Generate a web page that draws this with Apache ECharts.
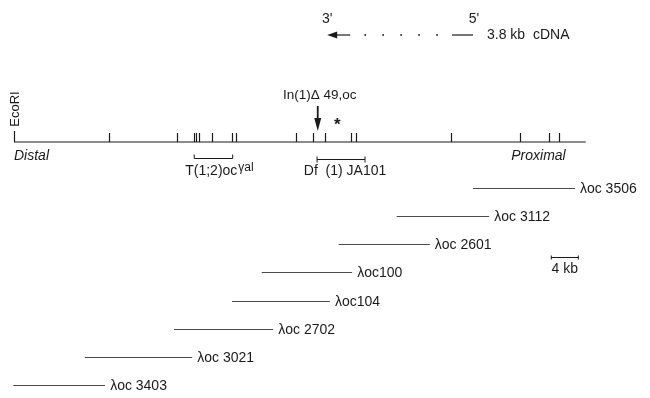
<!DOCTYPE html>
<html><head><meta charset="utf-8">
<script src="https://cdn.jsdelivr.net/npm/echarts@6/dist/echarts.min.js"></script>
<style>html,body{margin:0;padding:0;background:#fff}#c{width:650px;height:398px}</style>
</head><body><div id="c"></div>
<script>
// ---- data (positions in kb from the distal EcoRI site) ----
const mapEndKb = 84.7;
const siteKb = [0, 14.1, 24.1, 26.7, 27.0, 27.4, 29.3, 32.3, 32.9, 41.8, 44.3, 46.1, 49.9, 50.7, 64.7, 75.0, 79.3, 80.7];
const cloneNames = ['λoc 3506', 'λoc 3112', 'λoc 2601', 'λoc100', 'λoc104', 'λoc 2702', 'λoc 3021', 'λoc 3403'];
const cloneStartKb = [68.0, 56.7, 48.1, 36.7, 32.3, 23.7, 10.5, -0.1];
const cloneEndKb = [83.1, 70.4, 61.6, 50.1, 46.8, 38.4, 26.4, 13.5];
const lesionNames = ['T(1;2)oc', 'Df  (1) JA101'];
const lesionStartKb = [26.7, 44.9];
const lesionEndKb = [32.4, 52.0];
const inversionName = 'In(1)\u0394 49,oc';
const inversionKb = 45.0;
const starKb = 47.9;
const cdnaLabel = '3.8 kb  cDNA';
const cdnaThreePrimeKb = 46.4;
const cdnaFivePrimeKb = 68.0;
const scaleBarKb = 4;
const scaleBarStartKb = 79.6;

// ---- layout ----
const W = 650, H = 398, X0 = 14, PXKB = 6.75;
const yMain = 142, yClone0 = 188, cloneGap = 28.15;
const FONT = '"Liberation Sans", Arial, sans-serif';
const INK = '#1a1a1a', LINE = '#4a4a4a';

const chart = echarts.init(document.getElementById('c'), null, {renderer: 'canvas'});

function txt(x, y, s, o) {
  return {type: 'text', x: x, y: y, rotation: (o && o.rot) || 0,
    style: Object.assign({text: s, fill: INK, font: '14px ' + FONT, textAlign: 'left', textVerticalAlign: 'middle'}, o && o.style)};
}
function ln(x1, y1, x2, y2, w, c) {
  return {type: 'line', shape: {x1: x1, y1: y1, x2: x2, y2: y2}, style: {stroke: c || INK, lineWidth: w || 1}};
}

const cloneData = cloneNames.map((n, i) => [cloneStartKb[i], cloneEndKb[i], i]);
const lesionData = lesionNames.map((n, i) => [lesionStartKb[i], lesionEndKb[i], i]);

chart.setOption({
  animation: false,
  grid: {left: 0, right: 0, top: 0, bottom: 0},
  xAxis: {type: 'value', min: -X0 / PXKB, max: (W - X0) / PXKB, show: false},
  yAxis: {type: 'value', min: 0, max: H, inverse: true, show: false},
  series: [
    { // main restriction map
      type: 'custom', data: [[0, mapEndKb]], encode: {x: [0, 1]},
      renderItem: function (p, api) {
        const a = api.coord([api.value(0), yMain]);
        const b = api.coord([api.value(1), yMain]);
        const ch = [ln(a[0], yMain, b[0], yMain, 1.2)];
        siteKb.forEach(function (k, i) {
          const x = Math.round(api.coord([k, 0])[0]) + 0.5;
          ch.push(ln(x, i === 0 ? 131 : 133, x, yMain, 1.2));
        });
        ch.push(txt(a[0] + 1, 109, 'EcoRI', {rot: Math.PI / 2, style: {textAlign: 'center', font: '13px ' + FONT}}));
        ch.push(txt(a[0], 156, 'Distal', {style: {font: 'italic 14px ' + FONT}}));
        ch.push(txt(b[0] - 20, 156, 'Proximal', {style: {textAlign: 'right', font: 'italic 14px ' + FONT}}));
        // inversion breakpoint arrow
        const xi = api.coord([inversionKb, 0])[0];
        ch.push(ln(xi, 106, xi, 124, 1.8));
        ch.push({type: 'polygon', shape: {points: [[xi - 3.5, 118], [xi + 3.5, 118], [xi, 131]]}, style: {fill: INK}});
        ch.push(txt(xi + 2, 95, inversionName, {style: {textAlign: 'center', font: '13.5px ' + FONT}}));
        const xs = api.coord([starKb, 0])[0];
        ch.push(txt(xs, 125, '*', {style: {textAlign: 'center', font: 'bold 17px ' + FONT}}));
        return {type: 'group', children: ch};
      }
    },
    { // lesion brackets
      type: 'custom', data: lesionData, encode: {x: [0, 1]},
      renderItem: function (p, api) {
        const i = api.value(2);
        const x1 = api.coord([api.value(0), 0])[0], x2 = api.coord([api.value(1), 0])[0];
        const ch = [];
        if (i === 0) {
          const y = 158.5;
          ch.push(ln(x1, y, x2, y, 1));
          ch.push(ln(x1, y - 4, x1, y, 1));
          ch.push(ln(x2, y - 4, x2, y, 1));
          ch.push({type: 'text', x: x1 - 9, y: 171, style: {
            text: '{m|' + lesionNames[i] + '}{s|\u03b3al}', textVerticalAlign: 'middle',
            rich: {m: {font: '14px ' + FONT, fill: INK, padding: [0, 1, 0, 0]}, s: {font: '12px ' + FONT, fill: INK, padding: [0, 0, 7, 0]}}
          }});
        } else {
          const y = 159.5;
          ch.push(ln(x1, y, x2, y, 1));
          ch.push(ln(x1, y - 3, x1, y + 3, 1));
          ch.push(ln(x2, y - 3, x2, y + 3, 1));
          ch.push(txt((x1 + x2) / 2 + 4, 171, lesionNames[i], {style: {textAlign: 'center'}}));
        }
        return {type: 'group', children: ch};
      }
    },
    { // clones
      type: 'custom', data: cloneData, encode: {x: [0, 1]},
      renderItem: function (p, api) {
        const i = api.value(2);
        const y = Math.round(yClone0 + i * cloneGap) + 0.5;
        const x1 = api.coord([api.value(0), y])[0], x2 = api.coord([api.value(1), y])[0];
        return {type: 'group', children: [
          ln(x1, y, x2, y, 1, LINE),
          txt(x2 + 5, y + 1, cloneNames[i])
        ]};
      }
    },
    { // cDNA and scale bar
      type: 'custom', data: [[cdnaThreePrimeKb, cdnaFivePrimeKb, scaleBarStartKb, scaleBarStartKb + scaleBarKb]], encode: {x: [0, 1]},
      renderItem: function (p, api) {
        const t = api.coord([api.value(0), 0])[0], f = api.coord([api.value(1), 0])[0];
        const y = 35;
        const ch = [];
        ch.push({type: 'polygon', shape: {points: [[t, y], [t + 10, y - 3.5], [t + 10, y + 3.5]]}, style: {fill: INK}});
        ch.push(ln(t + 9, y, t + 23, y, 1.2));
        const segStart = f - 21;
        const d0 = t + 38, d1 = segStart - 15;
        for (let k = 0; k < 5; k++) {
          const x = d0 + (d1 - d0) * k / 4;
          ch.push({type: 'circle', shape: {cx: x, cy: y, r: 0.9}, style: {fill: INK}});
        }
        ch.push(ln(segStart, y, f, y, 1.2));
        ch.push(txt(t, 19, "3'", {style: {textAlign: 'center'}}));
        ch.push(txt(f + 1, 19, "5'", {style: {textAlign: 'center'}}));
        ch.push(txt(f + 14, y, cdnaLabel));
        const s1 = api.coord([api.value(2), 0])[0], s2 = api.coord([api.value(3), 0])[0];
        const ys = 257.5;
        ch.push(ln(s1, ys, s2, ys, 1));
        ch.push(ln(s1, ys - 2, s1, ys + 2, 1));
        ch.push(ln(s2, ys - 2, s2, ys + 2, 1));
        ch.push(txt((s1 + s2) / 2, 269, scaleBarKb + ' kb', {style: {textAlign: 'center'}}));
        return {type: 'group', children: ch};
      }
    }
  ]
});
</script></body></html>
